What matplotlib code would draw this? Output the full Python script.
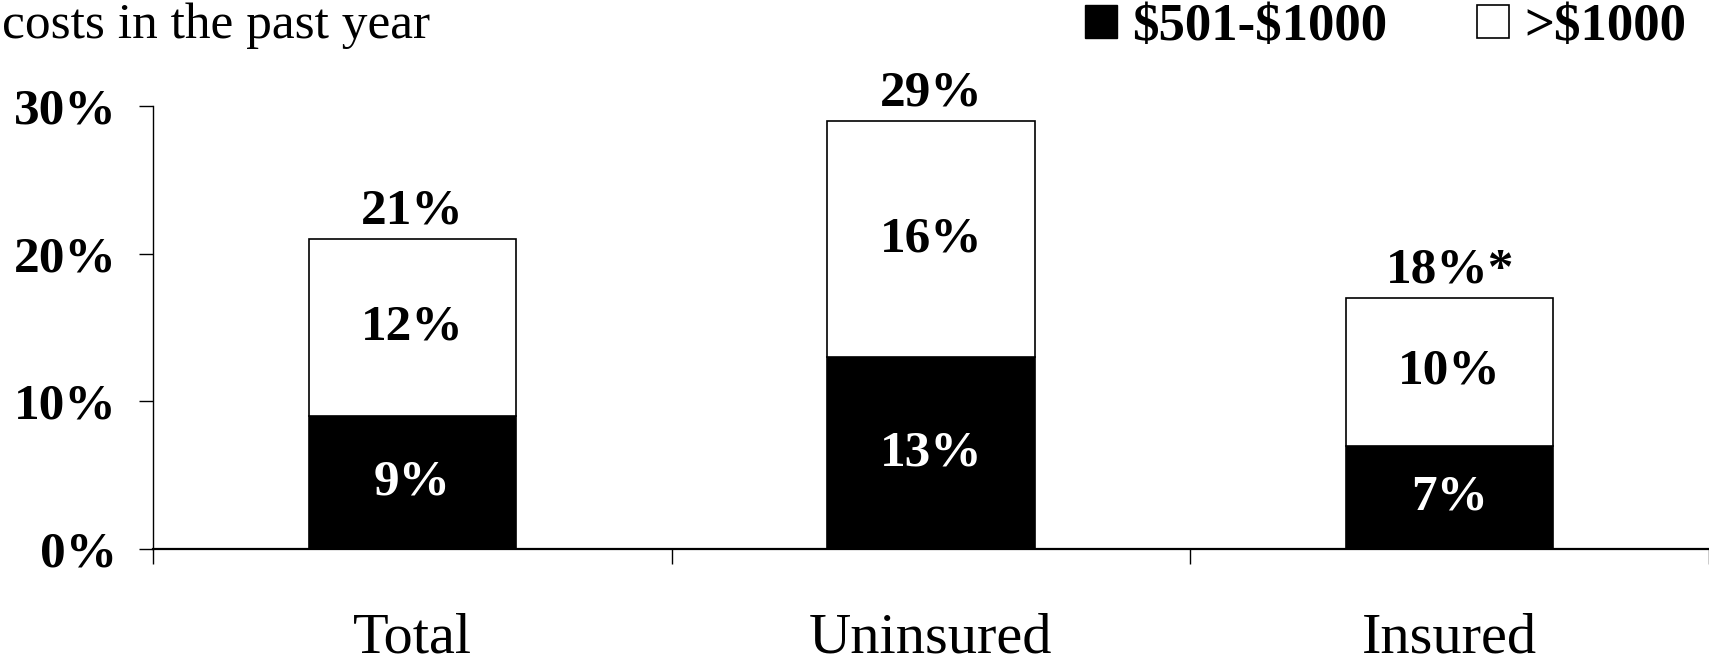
import matplotlib
matplotlib.use('Agg')
import matplotlib.pyplot as plt
from matplotlib.patches import Patch

categories = ['Total', 'Uninsured', 'Insured']
mid_cost = [9, 13, 7]        # $501-$1000
high_cost = [12, 16, 10]     # >$1000
total_labels = ['21%', '29%', '18%*']
legend_labels = ['$501-$1000', '>$1000']
title_text = 'costs in the past year'

plt.rcParams['font.family'] = ['Liberation Serif', 'DejaVu Serif']
plt.rcParams['text.parse_math'] = False

fig = plt.figure(figsize=(17.09, 6.61), dpi=100)
ax = fig.add_axes([0.0895, 0.1694, 0.9105, 0.670])

x = list(range(len(categories)))
bw = 0.4
ax.bar(x, mid_cost, width=bw, color='black', edgecolor='black', linewidth=1.2)
ax.bar(x, high_cost, width=bw, bottom=mid_cost, color='white', edgecolor='black', linewidth=1.2)

for i in x:
    lo, hi = mid_cost[i], high_cost[i]
    ax.text(i, lo / 2, f'{lo}%', ha='center', va='center', color='white',
            fontsize=37, fontweight='bold')
    ax.text(i, lo + hi / 2, f'{hi}%', ha='center', va='center', color='black',
            fontsize=37, fontweight='bold')
    ax.annotate(total_labels[i], (i, lo + hi), xytext=(0, 3), textcoords='offset points',
                ha='center', va='bottom', fontsize=37, fontweight='bold', annotation_clip=False)

ax.set_xlim(-0.5, 2.5)
ax.set_ylim(0, 30)
ax.set_yticks([0, 10, 20, 30])
ax.set_yticklabels([f'{v}%' for v in [0, 10, 20, 30]], fontsize=37, fontweight='bold')
ax.tick_params(axis='y', direction='out', length=10, width=1, pad=16)

ax.set_xticks(x)
ax.set_xticklabels(categories, fontsize=42)
ax.tick_params(axis='x', which='major', length=0, pad=46)
ax.set_xticks([-0.5, 0.5, 1.5, 2.5], minor=True)
ax.tick_params(axis='x', which='minor', direction='out', length=11, width=1)

for s in ['top', 'right']:
    ax.spines[s].set_visible(False)
ax.spines['left'].set_linewidth(1.0)
ax.spines['bottom'].set_linewidth(1.6)

fig.text(0.001, 0.9425, title_text, fontsize=37, ha='left', va='baseline')

handles = [Patch(facecolor='black', edgecolor='black'),
           Patch(facecolor='white', edgecolor='black', linewidth=1.2)]
fig.legend(handles, legend_labels, loc='upper right', bbox_to_anchor=(0.987, 0.995),
           ncol=2, frameon=False, prop={'size': 38, 'weight': 'bold'},
           handlelength=0.6, handleheight=0.6, handletextpad=0.3,
           columnspacing=1.7, borderpad=0, borderaxespad=0)

fig.savefig('out.png', dpi=100)
